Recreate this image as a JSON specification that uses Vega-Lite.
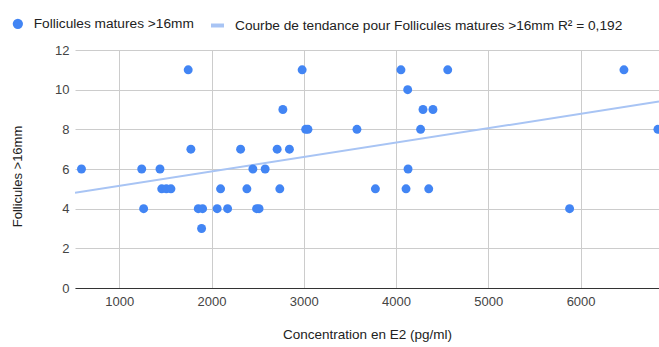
{
  "$schema": "https://vega.github.io/schema/vega-lite/v6.json",
  "width": 584,
  "height": 238,
  "autosize": {"type": "none"},
  "padding": {"left": 75, "top": 50, "right": 0, "bottom": 59},
  "background": "white",
  "config": {
    "font": "Liberation Sans",
    "view": {"stroke": null},
    "axis": {
      "labelFont": "Liberation Sans",
      "labelFontSize": 13,
      "labelColor": "#444444",
      "titleFont": "Liberation Sans",
      "titleFontSize": 13.5,
      "titleFontWeight": "normal",
      "titleColor": "#222222",
      "gridColor": "#cccccc",
      "ticks": false
    },
    "legend": {
      "title": null,
      "orient": "none",
      "direction": "horizontal",
      "labelFont": "Liberation Sans",
      "labelFontSize": 13.7,
      "labelColor": "#222222",
      "labelOffset": 9,
      "labelLimit": 600,
      "padding": 0
    }
  },
  "datasets": {
    "follicules": [
      {"e2": 590, "f": 6}, {"e2": 1243, "f": 6}, {"e2": 1264, "f": 4}, {"e2": 1441, "f": 6},
      {"e2": 1460, "f": 5}, {"e2": 1510, "f": 5}, {"e2": 1560, "f": 5}, {"e2": 1747, "f": 11},
      {"e2": 1776, "f": 7}, {"e2": 1856, "f": 4}, {"e2": 1903, "f": 4}, {"e2": 1892, "f": 3},
      {"e2": 2061, "f": 4}, {"e2": 2098, "f": 5}, {"e2": 2174, "f": 4}, {"e2": 2315, "f": 7},
      {"e2": 2383, "f": 5}, {"e2": 2448, "f": 6}, {"e2": 2488, "f": 4}, {"e2": 2515, "f": 4},
      {"e2": 2581, "f": 6}, {"e2": 2711, "f": 7}, {"e2": 2740, "f": 5}, {"e2": 2773, "f": 9},
      {"e2": 2844, "f": 7}, {"e2": 2982, "f": 11}, {"e2": 3020, "f": 8}, {"e2": 3045, "f": 8},
      {"e2": 3576, "f": 8}, {"e2": 3776, "f": 5}, {"e2": 4053, "f": 11}, {"e2": 4126, "f": 10},
      {"e2": 4292, "f": 9}, {"e2": 4400, "f": 9}, {"e2": 4266, "f": 8}, {"e2": 4130, "f": 6},
      {"e2": 4108, "f": 5}, {"e2": 4354, "f": 5}, {"e2": 4560, "f": 11}, {"e2": 5881, "f": 4},
      {"e2": 6470, "f": 11}, {"e2": 6838, "f": 8}
    ],
    "tendance": [
      {"e2": 520, "f": 4.8},
      {"e2": 6850, "f": 9.4}
    ]
  },
  "encoding": {
    "x": {
      "field": "e2", "type": "quantitative",
      "scale": {"domain": [520, 6850], "nice": false, "zero": false},
      "axis": {
        "title": "Concentration en E2 (pg/ml)",
        "values": [1000, 2000, 3000, 4000, 5000, 6000],
        "format": "d",
        "labelPadding": 7,
        "titlePadding": 19,
        "domainColor": "#333333",
        "domainWidth": 1
      }
    },
    "y": {
      "field": "f", "type": "quantitative",
      "scale": {"domain": [0, 12], "nice": false},
      "axis": {
        "title": "Follicules >16mm",
        "titleFontSize": 13,
        "titleY": 126,
        "values": [0, 2, 4, 6, 8, 10, 12],
        "domain": false,
        "labelPadding": 6,
        "titlePadding": 30
      }
    }
  },
  "layer": [
    {
      "data": {"name": "tendance"},
      "mark": {"type": "line", "strokeWidth": 2, "clip": true},
      "encoding": {
        "stroke": {
          "datum": "Courbe de tendance pour Follicules matures >16mm R² = 0,192",
          "type": "nominal",
          "scale": {"range": ["#a8c4f4"]},
          "legend": {
            "legendX": 134,
            "legendY": -33,
            "symbolType": "stroke",
            "symbolSize": 169,
            "symbolStrokeWidth": 4,
            "symbolOpacity": 1
          }
        }
      }
    },
    {
      "data": {"name": "follicules"},
      "mark": {"type": "point", "filled": true, "opacity": 1, "size": 80, "clip": true},
      "encoding": {
        "fill": {
          "datum": "Follicules matures >16mm",
          "type": "nominal",
          "scale": {"range": ["#4285f4"]},
          "legend": {
            "legendX": -64,
            "legendY": -33,
            "symbolType": "circle",
            "symbolSize": 105,
            "symbolStrokeWidth": 0,
            "symbolOpacity": 1
          }
        }
      }
    }
  ]
}
